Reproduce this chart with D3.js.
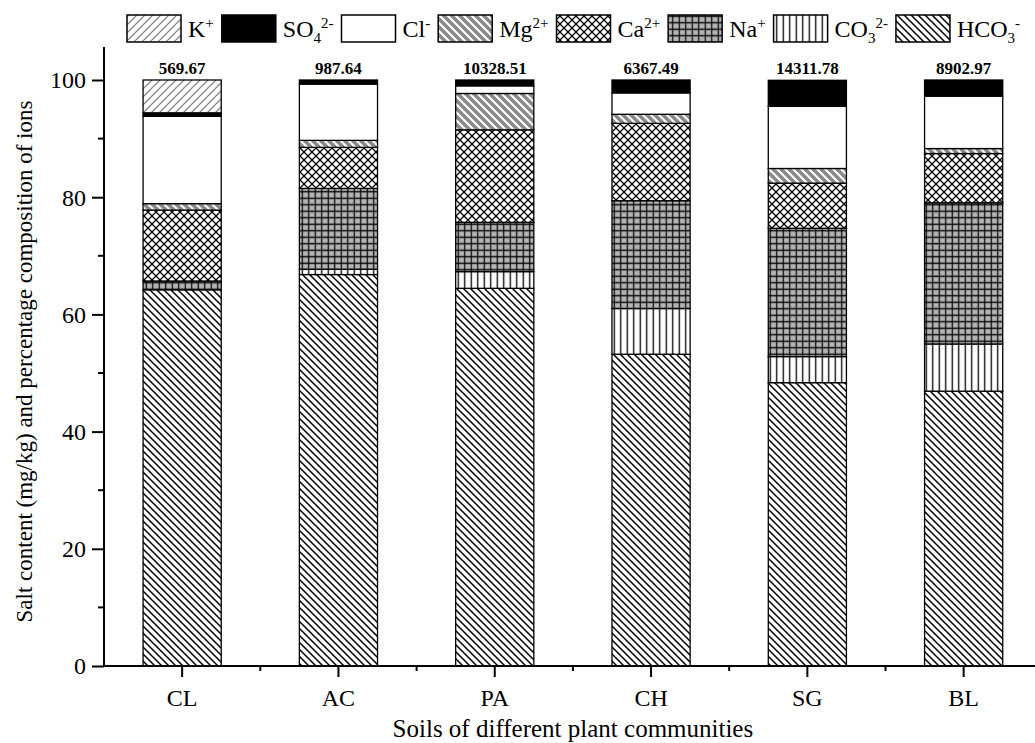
<!DOCTYPE html>
<html>
<head>
<meta charset="utf-8">
<script src="https://cdn.jsdelivr.net/npm/d3@7"></script>
<style>
  body { margin: 0; background: #fff; }
  text { font-family: "Liberation Serif", "DejaVu Serif", serif; fill: #000; }
</style>
</head>
<body>
<div id="chart"></div>
<script>
// soils and their total salt content (mg/kg)
const categories = ["CL", "AC", "PA", "CH", "SG", "BL"];
const totals = ["569.67", "987.64", "10328.51", "6367.49", "14311.78", "8902.97"];

// percentage composition of ions (stack order bottom -> top)
const hco3 = [64.2, 66.8, 64.45, 53.2, 48.35, 46.9];
const co3  = [0.0, 0.9, 2.85, 7.8, 4.45, 8.05];
const na   = [1.5, 13.8, 8.4, 18.4, 21.9, 24.1];
const ca   = [12.1, 7.0, 15.8, 13.2, 7.7, 8.4];
const mg   = [1.1, 1.2, 6.2, 1.55, 2.5, 0.85];
const cl   = [14.9, 9.6, 1.3, 3.65, 10.6, 8.95];
const so4  = [0.6, 0.7, 1.0, 2.2, 4.45, 2.75];
const k    = [5.6, 0.0, 0.0, 0.0, 0.0, 0.0];

const yTicks = [0, 20, 40, 60, 80, 100];

// ions: key, label pieces [text, kind], values
const ions = [
  { key: "hco3", label: [["HCO", ""], ["3", "sub"], ["-", "sup"]], values: hco3 },
  { key: "co3",  label: [["CO", ""], ["3", "sub"], ["2-", "sup"]], values: co3 },
  { key: "na",   label: [["Na", ""], ["+", "sup"]], values: na },
  { key: "ca",   label: [["Ca", ""], ["2+", "sup"]], values: ca },
  { key: "mg",   label: [["Mg", ""], ["2+", "sup"]], values: mg },
  { key: "cl",   label: [["Cl", ""], ["-", "sup"]], values: cl },
  { key: "so4",  label: [["SO", ""], ["4", "sub"], ["2-", "sup"]], values: so4 },
  { key: "k",    label: [["K", ""], ["+", "sup"]], values: k }
];

const W = 1035, H = 743;
const margin = { left: 104, top: 47 };
const step = 156.3;
const svg = d3.select("#chart").append("svg")
  .attr("width", W).attr("height", H);

// ---------- patterns ----------
const defs = svg.append("defs");
function lines(p, path, color, width) {
  p.append("path").attr("d", path).attr("stroke", color)
    .attr("stroke-width", width).attr("fill", "none");
}
function pattern(id, size, bg) {
  const p = defs.append("pattern").attr("id", id)
    .attr("patternUnits", "userSpaceOnUse")
    .attr("width", size).attr("height", size);
  p.append("rect").attr("width", size).attr("height", size).attr("fill", bg);
  return p;
}
// HCO3-: back diagonal black on white
let p = pattern("p-hco3", 7, "#fff");
lines(p, "M0,0L7,7M-7,0L0,7M7,0L14,7M0,-7L7,0M0,7L7,14", "#000", 1.5);
// CO3 2-: vertical lines
p = pattern("p-co3", 6.5, "#fff");
lines(p, "M3.25,0V6.5", "#000", 1.3);
// Na+: grid on grey
p = pattern("p-na", 6.5, "#b4b4b4");
lines(p, "M3.25,0V6.5M0,3.25H6.5", "#000", 1.2);
// Ca 2+: cross hatch
p = pattern("p-ca", 8, "#fff");
lines(p, "M0,0L8,8M8,0L0,8M-4,4L4,12M4,-4L12,4M4,-4L-4,4M12,4L4,12", "#000", 1.3);
// Mg 2+: grey with white back diagonal
p = pattern("p-mg", 8, "#8a8a8a");
lines(p, "M0,0L8,8M-8,0L0,8M8,0L16,8M0,-8L8,0M0,8L8,16", "#fff", 2);
// Cl-: white
p = pattern("p-cl", 8, "#fff");
// SO4 2-: black
p = pattern("p-so4", 8, "#000");
// K+: light grey forward diagonal
p = pattern("p-k", 8, "#fff");
lines(p, "M0,8L8,0M-8,8L0,0M8,8L16,0M0,0L-8,8M0,16L8,8", "#8c8c8c", 1.4);

// ---------- scales ----------
const x = d3.scaleBand()
  .domain(categories)
  .range([margin.left, margin.left + 6 * step])
  .paddingInner(0.5).paddingOuter(0.25);
const y = d3.scaleLinear().domain([0, 100]).range([666, 80]);

// ---------- stacked bars ----------
const table = categories.map((c, i) => {
  const row = { cat: c };
  ions.forEach(s => row[s.key] = s.values[i]);
  return row;
});
const stack = d3.stack().keys(ions.map(s => s.key));
const series = stack(table);

const g = svg.append("g");
g.selectAll("g.layer").data(series).join("g")
  .attr("class", "layer")
  .attr("fill", d => `url(#p-${d.key})`)
  .selectAll("rect")
  .data(d => d.filter(v => v[1] - v[0] > 0))
  .join("rect")
  .attr("x", d => x(d.data.cat))
  .attr("width", x.bandwidth())
  .attr("y", d => y(d[1]))
  .attr("height", d => y(d[0]) - y(d[1]))
  .attr("stroke", "#000")
  .attr("stroke-width", 1.3);

// totals above bars
g.selectAll("text.total").data(categories).join("text")
  .attr("class", "total")
  .attr("x", d => x(d) + x.bandwidth() / 2)
  .attr("y", y(100) - 6)
  .attr("text-anchor", "middle")
  .attr("font-weight", "bold")
  .attr("font-size", 17)
  .text((d, i) => totals[i]);

// ---------- axes ----------
const ax = svg.append("g").attr("stroke", "#000").attr("stroke-width", 2);
ax.append("line").attr("x1", margin.left).attr("x2", margin.left)
  .attr("y1", margin.top).attr("y2", y(0) + 1);
ax.append("line").attr("x1", margin.left).attr("x2", W)
  .attr("y1", y(0)).attr("y2", y(0));

const yAxis = d3.axisLeft(y).tickValues(yTicks).tickSize(12).tickPadding(6);
const yg = svg.append("g").attr("transform", `translate(${margin.left},0)`).call(yAxis);
yg.select(".domain").remove();
yg.selectAll(".tick line").attr("stroke-width", 2);
yg.selectAll(".tick text").attr("font-size", 24)
  .attr("font-family", "Liberation Serif, serif").attr("dy", "0.33em");
// minor y ticks
svg.append("g").selectAll("line")
  .data(d3.range(10, 100, 20)).join("line")
  .attr("x1", margin.left - 6).attr("x2", margin.left)
  .attr("y1", d => y(d)).attr("y2", d => y(d))
  .attr("stroke", "#000").attr("stroke-width", 2);

const xAxis = d3.axisBottom(x).tickSize(11).tickPadding(12);
const xg = svg.append("g").attr("transform", `translate(0,${y(0)})`).call(xAxis);
xg.select(".domain").remove();
xg.selectAll(".tick line").attr("stroke-width", 2);
xg.selectAll(".tick text").attr("font-size", 24)
  .attr("font-family", "Liberation Serif, serif");
// minor x ticks between categories
svg.append("g").selectAll("line")
  .data(categories.slice(0, -1)).join("line")
  .attr("x1", d => x(d) + x.bandwidth() / 2 + step / 2)
  .attr("x2", d => x(d) + x.bandwidth() / 2 + step / 2)
  .attr("y1", y(0)).attr("y2", y(0) + 5)
  .attr("stroke", "#000").attr("stroke-width", 2);

// axis titles
svg.append("text")
  .attr("x", margin.left + 3 * step).attr("y", 737)
  .attr("text-anchor", "middle").attr("font-size", 25)
  .text("Soils of different plant communities");
svg.append("text")
  .attr("transform", `translate(32,${(y(0) + margin.top) / 2 + 5}) rotate(-90)`)
  .attr("text-anchor", "middle").attr("font-size", 23)
  .text("Salt content (mg/kg) and percentage composition of ions");

// ---------- legend ----------
const legendOrder = ["k", "so4", "cl", "mg", "ca", "na", "co3", "hco3"];
const leg = svg.append("g");
let lx = 127;
legendOrder.forEach(key => {
  const s = ions.find(d => d.key === key);
  leg.append("rect")
    .attr("x", lx).attr("y", 15).attr("width", 54).attr("height", 27)
    .attr("fill", `url(#p-${key})`)
    .attr("stroke", "#000").attr("stroke-width", 1.5);
  const t = leg.append("text").attr("x", lx + 61).attr("y", 37).attr("font-size", 24);
  let shift = 0;
  s.label.forEach(([txt, kind]) => {
    const ts = t.append("tspan").text(txt);
    if (kind === "sup") { ts.attr("dy", -9 - shift).attr("font-size", 15); shift = -9; }
    else if (kind === "sub") { ts.attr("dy", 6).attr("font-size", 15); shift = 6; }
  });
  lx += 61 + t.node().getComputedTextLength() + 8;
});
</script>
</body>
</html>
